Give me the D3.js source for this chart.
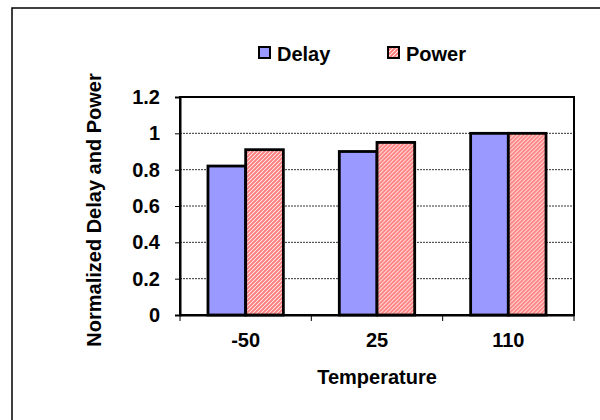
<!DOCTYPE html>
<html>
<head>
<meta charset="utf-8">
<script src="https://cdn.jsdelivr.net/npm/d3@7"></script>
<style>
  html, body { margin: 0; padding: 0; background: #fff; }
  svg { display: block; font-family: "Liberation Sans", Arial, sans-serif; font-weight: bold; }
</style>
</head>
<body>
<svg id="chart" width="600" height="420"></svg>
<script>
// Temperature categories and normalized series values
const categories = ["-50", "25", "110"];
const seriesNames = ["Delay", "Power"];
const delayValues = [0.82, 0.90, 1.00];
const powerValues = [0.91, 0.95, 1.00];
const yTickValues = [0, 0.2, 0.4, 0.6, 0.8, 1, 1.2];
const yTickLabels = ["0", "0.2", "0.4", "0.6", "0.8", "1", "1.2"];

const svg = d3.select("#chart");
const plot = { left: 180, right: 574, top: 97, bottom: 315 };

// Diagonal hatch used for the Power series
const defs = svg.append("defs");
const hatch = defs.append("pattern")
  .attr("id", "hatch")
  .attr("patternUnits", "userSpaceOnUse")
  .attr("width", 4).attr("height", 4);
hatch.append("rect").attr("width", 4).attr("height", 4).attr("fill", "#fff");
hatch.append("path")
  .attr("d", "M-1,1 L1,-1 M0,4 L4,0 M3,5 L5,3")
  .attr("stroke", "#ff7f7f").attr("stroke-width", 2).attr("fill", "none");

const fills = { Delay: "#9999ff", Power: "url(#hatch)" };

// Outer chart frame
svg.append("rect")
  .attr("x", 12).attr("y", 8).attr("width", 620).attr("height", 440)
  .attr("fill", "none").attr("stroke", "#000").attr("stroke-width", 1.5);

const x0 = d3.scaleBand()
  .domain(categories)
  .range([plot.left, plot.right])
  .paddingInner(0.426)
  .paddingOuter(0.213);
const x1 = d3.scaleBand()
  .domain(seriesNames)
  .range([0, x0.bandwidth()]);
const y = d3.scaleLinear().domain([0, 1.2]).range([plot.bottom, plot.top]);

// Dotted gridlines
svg.append("g")
  .selectAll("line")
  .data(yTickValues.filter(v => v > 0 && v < 1.2))
  .join("line")
  .attr("x1", plot.left).attr("x2", plot.right)
  .attr("y1", d => y(d)).attr("y2", d => y(d))
  .attr("stroke", "#333").attr("stroke-width", 1)
  .attr("stroke-dasharray", "2,1");

// Bars
const rows = categories.map((c, i) => ({ category: c, Delay: delayValues[i], Power: powerValues[i] }));
svg.append("g")
  .selectAll("g")
  .data(rows)
  .join("g")
  .attr("transform", d => `translate(${x0(d.category)},0)`)
  .selectAll("rect")
  .data(d => seriesNames.map(s => ({ key: s, value: d[s] })))
  .join("rect")
  .attr("x", d => x1(d.key))
  .attr("width", x1.bandwidth())
  .attr("y", d => y(d.value))
  .attr("height", d => y(0) - y(d.value))
  .attr("fill", d => fills[d.key])
  .attr("stroke", "#000").attr("stroke-width", 2.8);

// Plot area border
svg.append("rect")
  .attr("x", plot.left).attr("y", plot.top)
  .attr("width", plot.right - plot.left).attr("height", plot.bottom - plot.top)
  .attr("fill", "none").attr("stroke", "#000").attr("stroke-width", 2);

// Y axis
const yAxis = svg.append("g")
  .attr("transform", `translate(${plot.left},0)`)
  .call(d3.axisLeft(y).tickValues(yTickValues)
    .tickFormat((d, i) => yTickLabels[i]).tickSize(5).tickPadding(15));
yAxis.select(".domain").attr("stroke-width", 2);
yAxis.selectAll("text").attr("font-size", 20).attr("font-family", "Liberation Sans, Arial, sans-serif").attr("fill", "#000");

// X axis labels at band centres
const gxOuter = d3.scaleBand().domain(categories).range([plot.left, plot.right]);
const xAxis = svg.append("g")
  .attr("transform", `translate(0,${plot.bottom})`)
  .call(d3.axisBottom(gxOuter).tickSize(0).tickPadding(18));
xAxis.select(".domain").attr("stroke-width", 2);
xAxis.selectAll("text").attr("font-size", 20).attr("font-family", "Liberation Sans, Arial, sans-serif").attr("fill", "#000");

// Category boundary ticks
const boundaries = categories.map(c => gxOuter(c)).concat([plot.right]);
svg.append("g")
  .selectAll("line")
  .data(boundaries)
  .join("line")
  .attr("x1", d => d).attr("x2", d => d)
  .attr("y1", plot.bottom).attr("y2", plot.bottom + 6)
  .attr("stroke", "#000").attr("stroke-width", 1);

// Axis titles
svg.append("text")
  .attr("x", (plot.left + plot.right) / 2).attr("y", 384)
  .attr("text-anchor", "middle").attr("font-size", 20)
  .text("Temperature");
svg.append("text")
  .attr("transform", `translate(101,210) rotate(-90)`)
  .attr("text-anchor", "middle").attr("font-size", 20)
  .text("Normalized Delay and Power");

// Legend
const legendX = [259, 388];
const legend = svg.append("g")
  .selectAll("g")
  .data(seriesNames)
  .join("g")
  .attr("transform", (d, i) => `translate(${legendX[i]},47)`);
legend.append("rect")
  .attr("width", 11).attr("height", 11)
  .attr("fill", d => fills[d])
  .attr("stroke", "#000").attr("stroke-width", 2);
legend.append("text")
  .attr("x", 18).attr("y", 14)
  .attr("font-size", 20)
  .text(d => d);
</script>
</body>
</html>
